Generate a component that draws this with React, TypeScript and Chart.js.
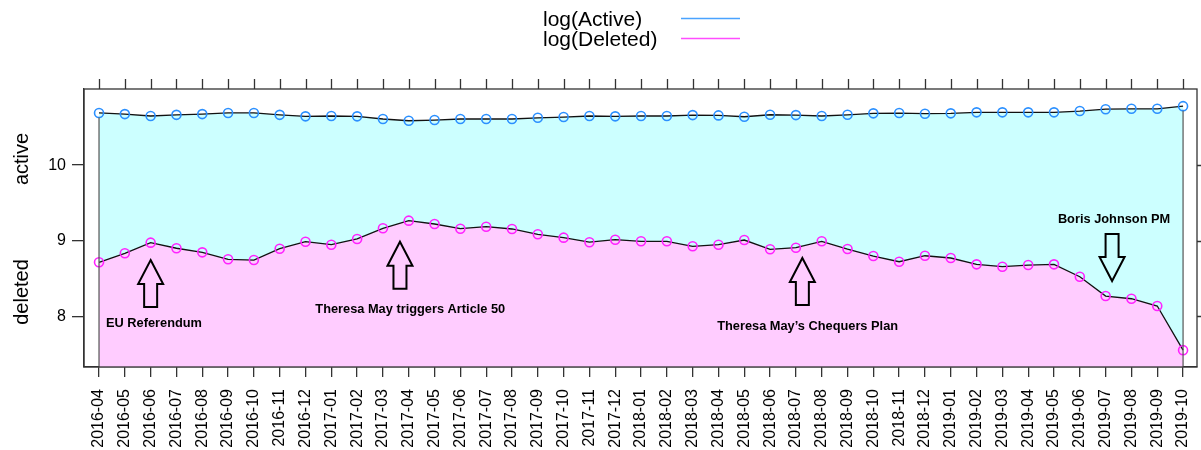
import React, { useEffect, useRef } from "react";
import { Chart, registerables } from "chart.js";

Chart.register(...registerables);

const months = [
  "2016-04", "2016-05", "2016-06", "2016-07", "2016-08", "2016-09", "2016-10", "2016-11", "2016-12",
  "2017-01", "2017-02", "2017-03", "2017-04", "2017-05", "2017-06", "2017-07", "2017-08", "2017-09",
  "2017-10", "2017-11", "2017-12", "2018-01", "2018-02", "2018-03", "2018-04", "2018-05", "2018-06",
  "2018-07", "2018-08", "2018-09", "2018-10", "2018-11", "2018-12", "2019-01", "2019-02", "2019-03",
  "2019-04", "2019-05", "2019-06", "2019-07", "2019-08", "2019-09", "2019-10",
];

const activeLog = [
  10.69, 10.675, 10.65, 10.665, 10.675, 10.69, 10.69, 10.665, 10.645, 10.65,
  10.645, 10.61, 10.587, 10.596, 10.61, 10.61, 10.61, 10.626, 10.636, 10.65,
  10.645, 10.65, 10.65, 10.662, 10.658, 10.64, 10.666, 10.662, 10.65, 10.666,
  10.685, 10.689, 10.68, 10.685, 10.698, 10.698, 10.698, 10.698, 10.715, 10.74,
  10.745, 10.745, 10.78,
];

const deletedLog = [
  8.714, 8.833, 8.974, 8.9, 8.846, 8.754, 8.744, 8.894, 8.987, 8.947,
  9.023, 9.164, 9.265, 9.221, 9.159, 9.185, 9.155, 9.085, 9.04, 8.98,
  9.013, 8.992, 8.992, 8.926, 8.947, 9.009, 8.886, 8.907, 8.992, 8.89,
  8.797, 8.722, 8.801, 8.771, 8.687, 8.656, 8.678, 8.687, 8.523, 8.268,
  8.232, 8.136, 7.552,
];

const yTickValues = [8, 9, 10];
const seriesLabels = ["log(Active)", "log(Deleted)"];
const panelLabels = ["active", "deleted"];

const annotationTexts = ["EU Referendum", "Theresa May triggers Article 50", "Theresa May\u2019s Chequers Plan", "Boris Johnson PM"];
// arrow anchors: x in month index units, tip in value units
const annotationLayout = [
  { arrowX: 2, tip: 8.744, dir: "up", textX: 0.27, textY: 7.909 },
  { arrowX: 11.66, tip: 8.987, dir: "up", textX: 8.38, textY: 8.095 },
  { arrowX: 27.25, tip: 8.771, dir: "up", textX: 23.95, textY: 7.861 },
  { arrowX: 39.25, tip: 8.466, dir: "down", textX: 37.15, textY: 9.287 },
];

const FONT = '"Liberation Sans", Arial, Helvetica, sans-serif';

const decorPlugin = {
  id: "decor",
  afterDatasetsDraw(chart: any) {
    const { ctx, chartArea, scales } = chart;
    const xs = scales.x;
    const ys = scales.y;
    ctx.save();
    ctx.strokeStyle = "#555";
    ctx.lineWidth = 1.2;
    const x0 = xs.getPixelForValue(0);
    const xN = xs.getPixelForValue(months.length - 1);
    ctx.beginPath();
    ctx.moveTo(x0, ys.getPixelForValue(activeLog[0]) + 4.5);
    ctx.lineTo(x0, chartArea.bottom);
    ctx.moveTo(xN, ys.getPixelForValue(activeLog[activeLog.length - 1]) + 4.5);
    ctx.lineTo(xN, chartArea.bottom);
    ctx.stroke();

    ctx.strokeStyle = "#000";
    ctx.lineWidth = 2;
    ctx.lineJoin = "miter";
    const L = 47, headH = 24, headHalf = 12.5, shaftHalf = 6.5;
    annotationLayout.forEach((a, i) => {
      const ax = xs.getPixelForValue(a.arrowX);
      const ty = ys.getPixelForValue(a.tip);
      const s = a.dir === "up" ? 1 : -1;
      ctx.beginPath();
      ctx.moveTo(ax, ty);
      ctx.lineTo(ax + headHalf, ty + s * headH);
      ctx.lineTo(ax + shaftHalf, ty + s * headH);
      ctx.lineTo(ax + shaftHalf, ty + s * L);
      ctx.lineTo(ax - shaftHalf, ty + s * L);
      ctx.lineTo(ax - shaftHalf, ty + s * headH);
      ctx.lineTo(ax - headHalf, ty + s * headH);
      ctx.closePath();
      ctx.stroke();
      ctx.fillStyle = "#000";
      ctx.font = `bold 12.8px ${FONT}`;
      ctx.textAlign = "left";
      ctx.textBaseline = "middle";
      ctx.fillText(annotationTexts[i], xs.getPixelForValue(a.textX), ys.getPixelForValue(a.textY));
    });
    ctx.restore();
  },
  afterDraw(chart: any) {
    const { ctx, chartArea, scales } = chart;
    const xs = scales.x;
    const ys = scales.y;
    ctx.save();
    ctx.strokeStyle = "#333";
    ctx.lineWidth = 1.3;
    ctx.strokeRect(chartArea.left, chartArea.top, chartArea.right - chartArea.left, chartArea.bottom - chartArea.top);
    ctx.beginPath();
    months.forEach((_, i) => {
      const px = Math.round(xs.getPixelForValue(i)) + 0.5;
      ctx.moveTo(px, chartArea.top - 10);
      ctx.lineTo(px, chartArea.top);
    });
    yTickValues.forEach((v) => {
      const py = Math.round(ys.getPixelForValue(v)) + 0.5;
      ctx.moveTo(chartArea.right, py);
      ctx.lineTo(chartArea.right + 12, py);
    });
    ctx.stroke();

    ctx.font = `21px ${FONT}`;
    ctx.fillStyle = "#000";
    ctx.textAlign = "left";
    ctx.textBaseline = "middle";
    const legendColors = ["#4aa3ff", "#ff4dff"];
    seriesLabels.forEach((lab, i) => {
      const y = 20 + i * 20;
      ctx.fillText(lab, 543, y);
      ctx.strokeStyle = legendColors[i];
      ctx.lineWidth = 1.5;
      ctx.beginPath();
      ctx.moveTo(681, y - 1.5);
      ctx.lineTo(740, y - 1.5);
      ctx.stroke();
    });

    ctx.font = `20px ${FONT}`;
    ctx.textAlign = "center";
    ctx.textBaseline = "middle";
    const centers = [159, 292];
    panelLabels.forEach((lab, i) => {
      ctx.save();
      ctx.translate(22, centers[i]);
      ctx.rotate(-Math.PI / 2);
      ctx.fillText(lab, 0, 0);
      ctx.restore();
    });
    ctx.restore();
  },
};

export default function App() {
  const ref = useRef<HTMLCanvasElement | null>(null);
  useEffect(() => {
    document.body.style.margin = "0";
    const canvas = ref.current;
    if (!canvas) return;
    const chart = new Chart(canvas, {
      type: "line",
      data: {
        datasets: [
          {
            label: seriesLabels[0],
            data: activeLog.map((v, i) => ({ x: i, y: v })),
            borderColor: "#111",
            borderWidth: 1.3,
            backgroundColor: "#ccffff",
            fill: "start",
            pointRadius: 4.5,
            pointBorderWidth: 1.6,
            pointBorderColor: "#2b90ff",
            pointBackgroundColor: "rgba(0,0,0,0)",
            tension: 0,
            order: 2,
          },
          {
            label: seriesLabels[1],
            data: deletedLog.map((v, i) => ({ x: i, y: v })),
            borderColor: "#111",
            borderWidth: 1.3,
            backgroundColor: "#ffccff",
            fill: "start",
            pointRadius: 4.5,
            pointBorderWidth: 1.6,
            pointBorderColor: "#ff22ff",
            pointBackgroundColor: "rgba(0,0,0,0)",
            tension: 0,
            order: 1,
          },
        ],
      },
      options: {
        animation: false,
        responsive: false,
        devicePixelRatio: 1,
        layout: { autoPadding: false, padding: { top: 89, right: 4, left: 0, bottom: 0 } },
        plugins: { legend: { display: false }, tooltip: { enabled: false } },
        scales: {
          x: {
            type: "linear",
            min: -0.582,
            max: 42.54,
            afterBuildTicks: (s: any) => {
              s.ticks = months.map((_, i) => ({ value: i }));
            },
            afterFit: (s: any) => {
              s.height = 83;
              s.paddingLeft = 0;
              s.paddingRight = 0;
            },
            ticks: {
              autoSkip: false,
              minRotation: 90,
              maxRotation: 90,
              padding: 12,
              color: "#000",
              font: { family: FONT, size: 16 },
              callback: (_v: any, i: number) => months[i],
            },
            grid: { drawOnChartArea: false, tickLength: 10, color: "#333", lineWidth: 1.3 },
            border: { color: "#333", width: 1.3 },
          },
          y: {
            type: "linear",
            min: 7.329,
            max: 11.007,
            afterBuildTicks: (s: any) => {
              s.ticks = yTickValues.map((v) => ({ value: v }));
            },
            afterFit: (s: any) => {
              s.width = 84;
              s.paddingTop = 0;
              s.paddingBottom = 0;
            },
            ticks: {
              padding: 6,
              color: "#000",
              font: { family: FONT, size: 16 },
              callback: (v: any) => String(v),
            },
            grid: { drawOnChartArea: false, tickLength: 12, color: "#333", lineWidth: 1.3 },
            border: { color: "#333", width: 1.3 },
          },
        },
      },
      plugins: [decorPlugin],
    });
    return () => chart.destroy();
  }, []);
  return <canvas ref={ref} width={1201} height={450} style={{ display: "block", width: 1201, height: 450 }} />;
}
